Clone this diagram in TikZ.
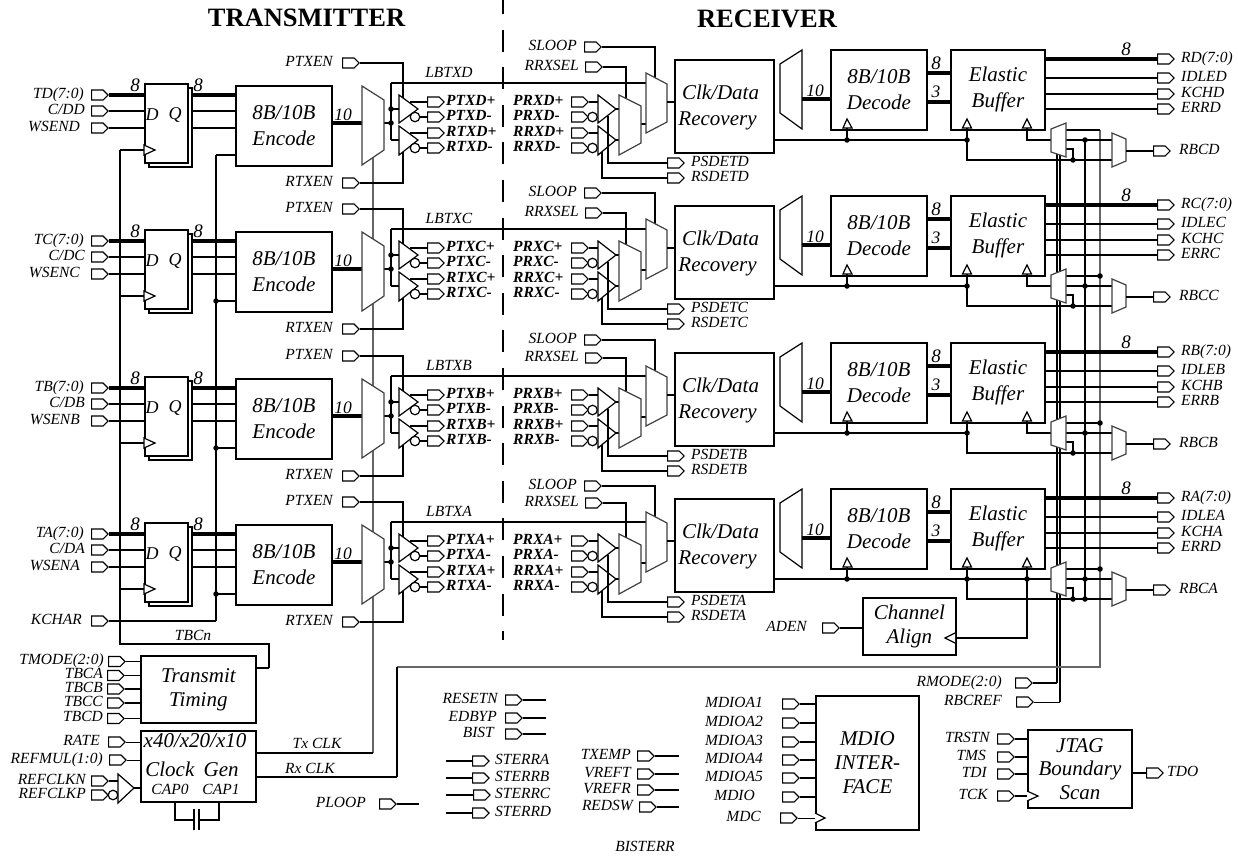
\documentclass[tikz,border=0pt]{standalone}
\usepackage{fontspec}
\setmainfont{Liberation Serif}
\usetikzlibrary{shapes.symbols}
\tikzset{
  wire/.style={line width=1.8pt,line cap=butt,line join=miter},
  thin wire/.style={line width=1pt},
  gray wire/.style={line width=1.1pt,draw=black!60},
  buswire/.style={line width=3.2pt},
  blk/.style={draw,line width=1.8pt,fill=white,inner sep=0pt,align=center,anchor=north west,
     font=\fontsize{21}{26}\selectfont\itshape},
  txt/.style={inner sep=0pt,align=center,font=\fontsize{21}{26}\selectfont\itshape},
  pinR/.style={shape=signal,signal to=east,signal pointer angle=90,draw,line width=1.2pt,fill=white,
     minimum width=16.5pt,minimum height=10pt,inner sep=0pt,anchor=west},
  lab/.style={inner sep=0pt,text height=9.5pt,text depth=3pt,font=\fontsize{15.5}{17}\selectfont\itshape},
  num/.style={inner sep=0pt,font=\fontsize{19}{20}\selectfont\itshape},
  num2/.style={inner sep=0pt,font=\fontsize{17.5}{20}\selectfont\itshape},
  mux/.style={draw=black!75,line width=1.2pt,fill=white,line join=miter},
  tri/.style={draw,line width=1.2pt,fill=white,line join=miter},
  bub/.style={draw,line width=1.2pt,fill=white,circle,inner sep=0pt,minimum size=9.5pt},
  junct/.style={fill,circle,inner sep=0pt,minimum size=5.5pt},
  title/.style={inner sep=0pt,font=\fontsize{26.5}{28}\selectfont\bfseries},
}
% input pin: name, label, label right x, pin x, y
\newcommand\inpin[5]{\node[lab,anchor=east] (#1-t) at (#3,#5) {#2};\node[pinR] (#1) at (#4,#5) {};}
% input pin with its label set from the left: name, label, label left x, pin x, y
\newcommand\inpinL[5]{\node[lab,anchor=west] (#1-t) at (#3,#5) {#2};\node[pinR] (#1) at (#4,#5) {};}
% output pin: name, label, pin x, label left x, y
\newcommand\outpin[5]{\node[pinR] (#1) at (#3,#5) {};\node[lab,anchor=west] (#1-t) at (#4,#5) {#2};}
% transmit channel: letter, dy
\newcommand\txchan[2]{%
\begin{scope}[shift={(0,#2)}]
  \draw[blk] (187,88) -- (192,88) -- (192,167) -- (149,167) -- (149,162);
  \node[blk,minimum width=43pt,minimum height=79pt] (ff#1) at (144,83) {};
  \node[num,font=\fontsize{18}{20}\selectfont\itshape] (ffd#1) at (152,115) {D};
  \node[num,font=\fontsize{18}{20}\selectfont\itshape] (ffq#1) at (175,115) {Q};
  \draw[tri] (144,145) -- (155,150) -- (144,155) -- cycle;
  \node[blk,minimum width=96pt,minimum height=80pt] (enc#1) at (235,85) {8B/10B\\Encode};
  \inpin{td#1}{T#1(7:0)}{84}{91}{95}
  \inpin{cd#1}{C/D#1}{85}{91}{111}
  \inpin{ws#1}{WSEN#1}{80}{91}{128}
  \draw[buswire] (td#1.east) -- (ff#1.west |- td#1.east);
  \draw[wire] (cd#1.east) -- (ff#1.west |- cd#1.east);
  \draw[wire] (ws#1.east) -- (ff#1.west |- ws#1.east);
  \node[num] (n8a#1) at (135,85) {8};
  \node[num] (n8b#1) at (198,85) {8};
  \coordinate (q1#1) at (192,95);\coordinate (q2#1) at (192,111);\coordinate (q3#1) at (192,128);
  \draw[buswire] (q1#1) -- (enc#1.west |- q1#1);
  \draw[wire] (q2#1) -- (enc#1.west |- q2#1);
  \draw[wire] (q3#1) -- (enc#1.west |- q3#1);
  \coordinate (ckt#1) at (120,150);\coordinate (ck#1) at (144,150);
  \draw[wire] (ckt#1) -- (ck#1);
  \coordinate (ent#1) at (216,155);
  \draw[wire] (ent#1) -- (enc#1.west |- ent#1);
  \coordinate (m1in#1) at (362,123);\coordinate (m1out#1) at (384,123);
  \draw[buswire] (enc#1.east |- m1in#1) -- (m1in#1);
  \node[num2] (n10#1) at (343,115) {10};
  \inpin{ptxen#1}{PTXEN}{333}{342}{63}
  \inpin{rtxen#1}{RTXEN}{333}{342}{183}
  \coordinate (en1#1) at (403,100);\coordinate (en2#1) at (403,150);
  \draw[wire] (ptxen#1.east) -| (en1#1);
  \draw[wire] (rtxen#1.east) -| (en2#1);
  \coordinate (lb0#1) at (391,109);\coordinate (lb1#1) at (391,123);\coordinate (lb2#1) at (391,140);\coordinate (lbt#1) at (391,83);
  \coordinate (bi1#1) at (399,109);\coordinate (bi2#1) at (399,140);
  \draw[wire] (m1out#1) -- (lb1#1);
  \draw[wire] (lb0#1) -- (bi1#1);
  \draw[wire] (lb2#1) -- (bi2#1);
  \draw[wire] (lbt#1) -- (lb2#1);
  \node[junct] (j1#1) at (lb0#1) {};
  \node[junct] (j2#1) at (lb1#1) {};
  \draw[mux] (362,86) -- (384,100) -- (384,150) -- (362,165) -- cycle;
  \draw[tri] (399,95) -- (418,109) -- (399,123) -- cycle;
  \draw[tri] (399,126) -- (418,140) -- (399,155) -- cycle;
  \node[bub] (b1#1) at (415,117) {};
  \node[bub] (b2#1) at (415,148) {};
  \outpin{ptp#1}{\bfseries PTX#1+}{427}{446}{102}
  \outpin{ptn#1}{\bfseries PTX#1-}{427}{446}{117}
  \outpin{rtp#1}{\bfseries RTX#1+}{427}{446}{133}
  \outpin{rtn#1}{\bfseries RTX#1-}{427}{446}{148}
  \coordinate (o1#1) at (410,102);\coordinate (o2#1) at (410,133);
  \draw[wire] (o1#1) -- (ptp#1.west);
  \draw[wire] (o2#1) -- (rtp#1.west);
  \draw[wire] (b1#1.east) -- (ptn#1.west);
  \draw[wire] (b2#1.east) -- (rtn#1.west);
  \node[lab] (lbl#1) at (449,74) {LBTX#1};
\end{scope}}
% receive channel: letter, dy, RRXSEL y, ERR label
\newcommand\rxchan[4]{%
\begin{scope}[shift={(0,#2)}]
  \coordinate (lbe#1) at (646,83);
  \draw[wire] (lbt#1) -- (lbe#1);
  \inpin{sl#1}{SLOOP}{577}{584}{47}
  \inpin{rr#1}{RRXSEL}{579}{585}{#3}
  \coordinate (mt3#1) at (655,80);\coordinate (mt2#1) at (626,100);
  \draw[wire] (sl#1.east) -| (mt3#1);
  \draw[wire] (rr#1.east) -| (mt2#1);
  \inpinL{prp#1}{\bfseries PRX#1+}{513}{571}{102}
  \inpinL{prn#1}{\bfseries PRX#1-}{513}{571}{117}
  \inpinL{rrp#1}{\bfseries RRX#1+}{513}{571}{133}
  \inpinL{rrn#1}{\bfseries RRX#1-}{513}{571}{148}
  \coordinate (ti1#1) at (598,102);\coordinate (ti2#1) at (598,133);
  \draw[wire] (prp#1.east) -- (ti1#1);
  \draw[wire] (rrp#1.east) -- (ti2#1);
  \draw[tri] (598,95) -- (616,109) -- (598,123) -- cycle;
  \draw[tri] (598,126) -- (616,140) -- (598,155) -- cycle;
  \node[bub] (c1#1) at (592.5,117) {};
  \node[bub] (c2#1) at (592.5,148) {};
  \coordinate (to1#1) at (616,109);\coordinate (mi1#1) at (619,109);
  \coordinate (to2#1) at (616,140);\coordinate (mi2#1) at (619,140);
  \draw[wire] (to1#1) -- (mi1#1);
  \draw[wire] (to2#1) -- (mi2#1);
  \outpin{psd#1}{PSDET#1}{667}{691}{163}
  \outpin{rsd#1}{RSDET#1}{667}{691}{178}
  \coordinate (ps0#1) at (608,116);\coordinate (rs0#1) at (602,152);
  \draw[wire] (ps0#1) |- (psd#1.west);
  \draw[wire] (rs0#1) |- (rsd#1.west);
  \coordinate (m2o#1) at (641,124);\coordinate (m3i#1) at (646,124);
  \draw[wire] (m2o#1) -- (m3i#1);
  \draw[mux] (619,95) -- (641,106) -- (641,143) -- (619,155) -- cycle;
  \draw[mux] (646,73) -- (667,84) -- (667,122) -- (646,133) -- cycle;
  \node[blk,minimum width=99pt,minimum height=93pt] (cdr#1) at (674,59) {};
  \node[txt] (cdrt#1) at (717.5,107) {\hspace*{6pt}Clk/Data\\Recovery};
  \coordinate (m3o#1) at (667,102);
  \draw[wire] (m3o#1) -- (cdr#1.west |- m3o#1);
  \draw[mux,draw=black] (780,64) -- (802,50) -- (802,129) -- (780,113) -- cycle;
  \node[blk,minimum width=96pt,minimum height=80pt] (dec#1) at (830,49) {8B/10B\\Decode};
  \node[blk,minimum width=94pt,minimum height=80pt] (eb#1) at (950,49) {Elastic\\Buffer};
  \coordinate (dm#1) at (802,99);
  \draw[buswire] (dm#1) -- (dec#1.west |- dm#1);
  \node[num2] (n10r#1) at (815,91) {10};
  \coordinate (d8#1) at (927,73);\coordinate (d3#1) at (927,102);
  \draw[buswire] (d8#1) -- (eb#1.west |- d8#1);
  \draw[buswire] (d3#1) -- (eb#1.west |- d3#1);
  \node[num] (n8c#1) at (936,63) {8};
  \node[num2] (n3#1) at (936,92) {3};
  \outpin{rdo#1}{R#1(7:0)}{1157}{1181}{59}
  \outpin{idl#1}{IDLE#1}{1157}{1181}{78}
  \outpin{kch#1}{KCH#1}{1157}{1181}{94}
  \outpin{err#1}{#4}{1157}{1181}{109}
  \draw[buswire] (eb#1.east |- rdo#1.west) -- (rdo#1.west);
  \draw[wire] (eb#1.east |- idl#1.west) -- (idl#1.west);
  \draw[wire] (eb#1.east |- kch#1.west) -- (kch#1.west);
  \draw[wire] (eb#1.east |- err#1.west) -- (err#1.west);
  \node[num] (n8d#1) at (1126,49) {8};
  % clock path
  \coordinate (ct1#1) at (847,128);\coordinate (cj1#1) at (847,140);
  \coordinate (cj2#1) at (967,140);\coordinate (ct2#1) at (967,128);
  \coordinate (cb2#1) at (967,160);\coordinate (mxi#1) at (1112,160);
  \coordinate (ct3#1) at (1027,128);\coordinate (cj3#1) at (1027,140);\coordinate (mci#1) at (1051,140);
  \draw[wire] (cdr#1.east |- cj1#1) -- (cj2#1);
  \draw[wire] (ct1#1) -- (cj1#1);
  \draw[wire] (ct2#1) -- (cb2#1) -- (mxi#1);
  \draw[wire] (ct3#1) -- (cj3#1) -- (mci#1);
  \node[junct] (dj1#1) at (cj1#1) {};
  \node[junct] (dj2#1) at (cj2#1) {};
  \draw[tri] (843,128) -- (847,119) -- (852,128) -- cycle;
  \draw[tri] (962.5,128) -- (967,119) -- (971.5,128) -- cycle;
  \draw[tri] (1022.5,128) -- (1027,119) -- (1031.5,128) -- cycle;
  \coordinate (mo1#1) at (1066,130);\coordinate (mo1e#1) at (1100,130);
  \coordinate (mo2#1) at (1066,140);\coordinate (mo2e#1) at (1112,140);
  \coordinate (mo3#1) at (1066,149);\coordinate (mo3k#1) at (1073,149);\coordinate (mo3d#1) at (1073,160);
  \draw[wire] (mo1#1) -- (mo1e#1);
  \draw[wire] (mo2#1) -- (mo2e#1);
  \draw[wire] (mo3#1) -- (mo3k#1) -- (mo3d#1);
  \node[junct] (dj3#1) at (mo3d#1) {};
  \node[junct] (dj4#1) at (1085,140) {};
  \draw[mux] (1051,129) -- (1066,123) -- (1066,157) -- (1051,152) -- cycle;
  \draw[mux] (1112,133) -- (1126,139) -- (1126,161) -- (1112,167) -- cycle;
  \outpin{rbc#1}{RBC#1}{1153}{1179}{151}
  \coordinate (mxo#1) at (1126,151);
  \draw[wire] (mxo#1) -- (rbc#1.west);
\end{scope}}
\begin{document}
\begin{tikzpicture}[x=1pt,y=-1pt]
\useasboundingbox (0,0) rectangle (1238,857);
\node[title] (ttx) at (306.5,18) {TRANSMITTER};
\node[title] (trx) at (767,18.5) {RECEIVER};
\coordinate (dsh0) at (503,-8);\coordinate (dsh1) at (503,640);
\draw[line width=1.6pt,dash pattern=on 22pt off 15.6pt] (dsh0) -- (dsh1);
% trunks lying behind the muxes
\coordinate (txt) at (373,140);\coordinate (txb) at (373,753);
\draw[gray wire] (txt) -- (txb);
\coordinate (vr1t) at (1057,150);\coordinate (vr1b) at (1057,683);
\coordinate (vr2t) at (1060,150);\coordinate (vr2b) at (1060,702);
\draw[wire] (vr1t) -- (vr1b);
\draw[wire] (vr2t) -- (vr2b);
\coordinate (vr3t) at (1085,140);\coordinate (vr3b) at (1085,599);
\draw[wire] (vr3t) -- (vr3b);
\coordinate (rx0) at (397,777);\coordinate (rx1) at (397,667);\coordinate (rx2) at (1100,667);\coordinate (rx3) at (1100,130);
\draw[gray wire] (rx1) -- (rx2) -- (rx3);
\draw[wire] (rx0) -- (rx1);
\txchan{D}{0}
\txchan{C}{146}
\txchan{B}{293}
\txchan{A}{439}
\rxchan{D}{0}{67}{ERRD}
\rxchan{C}{146}{67}{ERRC}
\rxchan{B}{293}{65}{ERRB}
\rxchan{A}{439}{64}{ERRD}
% clock trunks on the transmit side
\coordinate (ckb) at (120,644);\coordinate (tk) at (269,644);\coordinate (tk2) at (269,668);
\draw[wire] (cktD) -- (ckb) -- (tk) -- (tk2);
\inpin{kchar}{KCHAR}{82}{91}{621}
\coordinate (ke) at (216,621);
\draw[wire] (entD) -- (ke);
\draw[wire] (kchar.east) -- (ke);
\node[junct] (jeC) at (entC) {};
\node[junct] (jeB) at (entB) {};
\node[junct] (jeA) at (entA) {};
% extra junctions on the receive side
\node[junct] (gC) at (1100,276) {};
\node[junct] (gB) at (1100,423) {};
\node[junct] (gA) at (1100,569) {};
\node[junct] (lowA) at (1085,599) {};
\node[junct] (cj3) at (cj3A) {};
\draw[wire] (cj2A) -- (cj3A);
% channel align
\node[blk,minimum width=93pt,minimum height=57pt] (ca) at (862,597) {Channel\\[-2pt]Align};
\inpin{aden}{ADEN}{807}{822}{628}
\draw[wire] (aden.east) -- (aden.east -| ca.west);
\coordinate (caw) at (955,638);\coordinate (cak) at (1027,638);
\draw[wire] (caw) -- (cak) -- (cj3A);
\draw[tri] (955,633) -- (945,638) -- (955,643);
% timing
\node[lab] (tbcn) at (193,637) {TBCn};
\node[blk,minimum width=115pt,minimum height=67pt] (tt) at (140,655) {Transmit\\[-2pt]Timing};
\draw[wire] (tk2) -- (tk2 -| tt.east);
\inpin{tmode}{TMODE(2:0)}{104}{108}{661.5}
\inpin{tbca}{TBCA}{103}{107}{675.5}
\inpin{tbcb}{TBCB}{103}{107}{689}
\inpin{tbcc}{TBCC}{103}{107}{703}
\inpin{tbcd}{TBCD}{103}{107}{718.5}
\foreach \p in {tmode,tbca,tbcb,tbcc,tbcd} \draw[wire] (\p.east) -- (\p.east -| tt.west);
% clock generator
\node[blk,minimum width=115pt,minimum height=71pt] (cg) at (140,730) {};
\node[txt] (cg1) at (195,741) {x40/x20/x10};
\node[txt] (cg2) at (192,769) {Clock\hspace{4pt} Gen};
\node[lab] (cap0) at (170,791) {CAP0};
\node[lab] (cap1) at (221,791) {CAP1};
\inpin{rate}{RATE}{100}{108}{742}
\inpin{rmul}{REFMUL(1:0)}{103}{109}{760}
\draw[thin wire] (rate.east) -- (rate.east -| cg.west);
\draw[thin wire] (rmul.east) -- (rmul.east -| cg.west);
\inpin{rn}{REFCLKN}{86}{91}{781}
\inpin{rp}{REFCLKP}{86}{91}{795}
\coordinate (rb) at (118,781);
\draw[wire] (rn.east) -- (rb);
\coordinate (rbt) at (134,788);
\draw[wire] (rbt) -- (rbt -| cg.west);
\draw[tri] (118,774) -- (134,788) -- (118,803) -- cycle;
\node[bub] (rpb) at (113,795) {};
\coordinate (c1) at (175,801);\coordinate (c2) at (175,820);\coordinate (c3) at (194,820);
\coordinate (c4) at (199,820);\coordinate (c5) at (219,820);\coordinate (c6) at (219,801);
\draw[wire] (c1) -- (c2) -- (c3);
\draw[wire] (c4) -- (c5) -- (c6);
\coordinate (p1a) at (194,809);\coordinate (p1b) at (194,830);\coordinate (p2a) at (199,809);\coordinate (p2b) at (199,830);
\draw[wire] (p1a) -- (p1b);
\draw[wire] (p2a) -- (p2b);
\draw[wire] (cg.east |- txb) -- (txb);
\draw[wire] (cg.east |- rx0) -- (rx0);
\node[lab] (txck) at (317,745) {Tx CLK};
\node[lab] (rxck) at (310,770) {Rx CLK};
\inpin{ploop}{PLOOP}{366}{379}{804}
\coordinate (pe) at (419,804);
\draw[wire] (ploop.east) -- (pe);
% misc inputs
\inpin{rst}{RESETN}{498}{505}{700}
\inpin{edb}{EDBYP}{497}{505}{718}
\inpin{bist}{BIST}{494}{505}{734}
\foreach \p in {rst,edb,bist} {\draw[wire] (\p.east) -- (546,0 |- \p.east);}
\outpin{sta}{STERRA}{472}{495}{761}
\outpin{stb}{STERRB}{472}{495}{778}
\outpin{stc}{STERRC}{473}{495}{795}
\outpin{std}{STERRD}{472}{495}{813}
\foreach \p in {sta,stb,stc,std} {\draw[wire] (446,0 |- \p.west) -- (\p.west);}
\inpin{txe}{TXEMP}{631}{637}{756}
\inpin{vrt}{VREFT}{631}{637}{774}
\inpin{vrr}{VREFR}{631}{637}{790}
\inpin{red}{REDSW}{633}{639}{807}
\foreach \p in {txe,vrt,vrr,red} {\draw[wire] (\p.east) -- (679,0 |- \p.east);}
\node[lab] (bisterr) at (645,848) {BISTERR};
% MDIO
\node[blk,minimum width=103pt,minimum height=134pt,font=\fontsize{21}{24}\selectfont\itshape] (mdio) at (815,695) {MDIO\\INTER-\\FACE};
\inpin{ma1}{MDIOA1}{763}{782}{704}
\inpin{ma2}{MDIOA2}{763}{782}{723}
\inpin{ma3}{MDIOA3}{763}{782}{742}
\inpin{ma4}{MDIOA4}{763}{782}{760}
\inpin{ma5}{MDIOA5}{763}{782}{778}
\inpin{mdq}{MDIO}{755}{782}{797}
\inpin{mdc}{MDC}{761}{780}{818}
\foreach \p in {ma1,ma2,ma3,ma4,ma5,mdq} \draw[wire] (\p.east) -- (\p.east -| mdio.west);
\draw[thin wire] (mdc.east) -- (mdc.east -| mdio.west);
\draw[tri] (815,813) -- (825,818) -- (815,823);
% RMODE
\inpin{rmode}{RMODE(2:0)}{1002}{1015}{683}
\inpin{rbcref}{RBCREF}{1002}{1016}{702}
\draw[wire] (rmode.east) -- (vr1b);
\draw[thin wire] (rbcref.east) -- (vr2b);
% JTAG
\node[blk,minimum width=104pt,minimum height=78pt,font=\fontsize{21}{23.5}\selectfont\itshape] (jt) at (1027,729) {JTAG\\Boundary\\Scan};
\inpin{trst}{TRSTN}{990}{997}{739}
\inpin{tms}{TMS}{986}{997}{757}
\inpin{tdi}{TDI}{987}{997}{774}
\inpin{tck}{TCK}{988}{997}{796}
\foreach \p in {trst,tms,tdi,tck} \draw[wire] (\p.east) -- (\p.east -| jt.west);
\draw[tri] (1027,791) -- (1038,796) -- (1027,801);
\outpin{tdo}{TDO}{1146}{1167}{773}
\draw[wire] (jt.east |- tdo.west) -- (tdo.west);
\end{tikzpicture}
\end{document}
